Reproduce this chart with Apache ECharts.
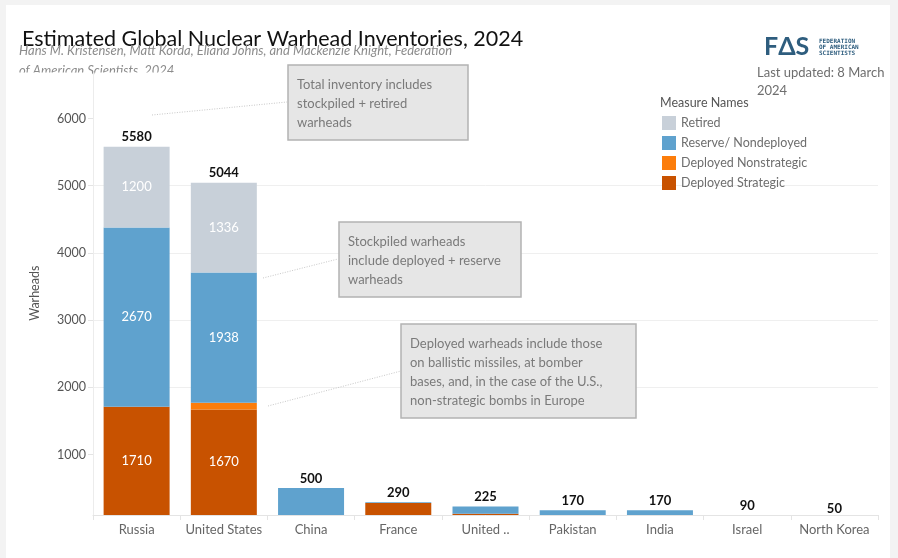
<!DOCTYPE html>
<html>
<head>
<meta charset="utf-8">
<script src="https://cdn.jsdelivr.net/npm/echarts@6/dist/echarts.min.js"></script>
<style>
html,body{margin:0;padding:0;background:#f3f3f3;}
#chart{width:898px;height:558px;}
</style>
</head>
<body>
<div id="chart"></div>
<script>
// ---- data ----
var categoryLabels = ['Russia', 'United States', 'China', 'France', 'United ..', 'Pakistan', 'India', 'Israel', 'North Korea'];
var deployedStrategic    = [1710, 1670,   0, 280, 120,   0,   0,  0,  0];
var deployedNonstrategic = [   0,  100,   0,   0,   0,   0,   0,  0,  0];
var reserveNondeployed   = [2670, 1938, 500,  10, 105, 170, 170, 90, 50];
var retired              = [1200, 1336,   0,   0,   0,   0,   0,  0,  0];
var totals               = [5580, 5044, 500, 290, 225, 170, 170, 90, 50];
var yTickValues = [1000, 2000, 3000, 4000, 5000, 6000];
var seriesNames = ['Retired', 'Reserve/ Nondeployed', 'Deployed Nonstrategic', 'Deployed Strategic'];

var FONT = 'Lato';
var colors = {
  'Retired': '#c8d0d9',
  'Reserve/ Nondeployed': '#5fa2ce',
  'Deployed Nonstrategic': '#fc7d0b',
  'Deployed Strategic': '#c85200'
};

var chart = echarts.init(document.getElementById('chart'));

function segLabel() {
  return {
    show: true,
    position: 'inside',
    color: '#ffffff',
    fontFamily: FONT,
    fontSize: 13,
    formatter: function (p) { return p.value >= 1000 ? String(p.value) : ''; }
  };
}

function stackSeries(name, data) {
  return {
    name: name,
    type: 'bar',
    stack: 'inv',
    barWidth: 66,
    data: data,
    itemStyle: { color: colors[name] },
    label: segLabel(),
    emphasis: { disabled: true }
  };
}

function annBox(x, y, w, h, text) {
  return [
    { type: 'rect', shape: { x: x, y: y, width: w, height: h },
      style: { fill: '#e6e6e6', stroke: '#b3b3b3', lineWidth: 1.5 }, z: 100 },
    { type: 'text', x: x + 9, y: y + 10,
      style: { text: text, fill: '#7a7a7a', font: '13px ' + FONT, lineHeight: 19,
               verticalAlign: 'top' }, z: 101 }
  ];
}
function dotLine(x1, y1, x2, y2) {
  return { type: 'line', shape: { x1: x1, y1: y1, x2: x2, y2: y2 },
           style: { stroke: '#c8c8c8', lineWidth: 1, lineDash: [1, 1.5] }, z: 99 };
}

var graphics = [
  { type: 'rect', shape: { x: 6, y: 5, width: 884, height: 553 }, style: { fill: '#ffffff' }, z: -100 },
  { type: 'text', x: 22, y: 39,
    style: { text: 'Estimated Global Nuclear Warhead Inventories, 2024', fill: '#111111',
             font: '21.5px ' + FONT, verticalAlign: 'middle' }, z: 5 },
  { type: 'text', x: 19, y: 51,
    style: { text: 'Hans M. Kristensen, Matt Korda, Eliana Johns, and Mackenzie Knight, Federation',
             fill: '#8c8c8c', font: 'italic 13px ' + FONT, verticalAlign: 'middle' }, z: 6 },
  { type: 'text', x: 19, y: 71,
    style: { text: 'of American Scientists, 2024',
             fill: '#8c8c8c', font: 'italic 13px ' + FONT, verticalAlign: 'middle' }, z: 6 },
  { type: 'rect', shape: { x: 6, y: 72.5, width: 86, height: 10 }, style: { fill: '#ffffff' }, z: 7 },
  { type: 'rect', shape: { x: 94.5, y: 72.5, width: 190, height: 10 }, style: { fill: '#ffffff' }, z: 7 },
  // logo
  { type: 'text', x: 764, y: 47,
    style: { text: 'F\u0394S', fill: '#2e5d7e', font: 'bold 25px ' + FONT, verticalAlign: 'middle' }, z: 5 },
  { type: 'text', x: 819, y: 41,
    style: { text: 'FEDERATION', fill: '#2e5d7e', font: 'bold 6px "DejaVu Sans Mono"', verticalAlign: 'middle' }, z: 5 },
  { type: 'text', x: 819, y: 47,
    style: { text: 'OF AMERICAN', fill: '#2e5d7e', font: 'bold 6px "DejaVu Sans Mono"', verticalAlign: 'middle' }, z: 5 },
  { type: 'text', x: 819, y: 53,
    style: { text: 'SCIENTISTS', fill: '#2e5d7e', font: 'bold 6px "DejaVu Sans Mono"', verticalAlign: 'middle' }, z: 5 },
  { type: 'text', x: 757, y: 73,
    style: { text: 'Last updated: 8 March', fill: '#6e6e6e', font: '13px ' + FONT, verticalAlign: 'middle' }, z: 5 },
  { type: 'text', x: 757, y: 91,
    style: { text: '2024', fill: '#6e6e6e', font: '13px ' + FONT, verticalAlign: 'middle' }, z: 5 },
  { type: 'text', x: 660, y: 103,
    style: { text: 'Measure Names', fill: '#555555', font: '12.5px ' + FONT, verticalAlign: 'middle' }, z: 5 },
  dotLine(152, 115, 287, 102),
  dotLine(263, 278, 338, 259),
  dotLine(268, 406, 401, 371)
].concat(
  annBox(288, 65, 180, 75, 'Total inventory includes\nstockpiled + retired\nwarheads'),
  annBox(339, 222, 182, 75, 'Stockpiled warheads\ninclude deployed + reserve\nwarheads'),
  annBox(401, 324, 235, 94, 'Deployed warheads include those\non ballistic missiles, at bomber\nbases, and, in the case of the U.S.,\nnon-strategic bombs in Europe')
);

var option = {
  animation: false,
  backgroundColor: 'transparent',
  textStyle: { fontFamily: FONT },
  grid: { left: 93, right: 20, top: 71.5, bottom: 43, containLabel: false },
  legend: {
    data: seriesNames,
    orient: 'vertical',
    left: 662, top: 116,
    padding: 0,
    itemWidth: 14, itemHeight: 14, itemGap: 6,
    icon: 'rect',
    selectedMode: false,
    textStyle: { color: '#6e6e6e', fontSize: 12.5, fontFamily: FONT }
  },
  xAxis: {
    type: 'category',
    data: categoryLabels,
    axisLine: { show: true, lineStyle: { color: '#e4e4e4', width: 1 } },
    axisTick: { show: true, length: 5, lineStyle: { color: '#e4e4e4' } },
    axisLabel: { interval: 0, color: '#666666', fontSize: 13, fontFamily: FONT, margin: 8 },
    splitLine: { show: false }
  },
  yAxis: {
    type: 'value',
    min: 100, max: 6700,
    name: 'Warheads',
    nameLocation: 'middle',
    nameGap: 52,
    nameTextStyle: { color: '#555555', fontSize: 12.5, fontFamily: FONT },
    axisLine: { show: true, lineStyle: { color: '#ececec' } },
    axisTick: { show: true, length: 5, inside: false, lineStyle: { color: '#e4e4e4' }, customValues: yTickValues },
    axisLabel: { color: '#555555', fontSize: 12.5, fontFamily: FONT, margin: 7, customValues: yTickValues,
                 formatter: function (v) { return String(v); } },
    splitLine: { show: true, showMaxLine: false, showMinLine: false, lineStyle: { color: '#efefef' } }
  },
  graphic: graphics,
  series: [
    stackSeries('Deployed Strategic', deployedStrategic),
    stackSeries('Deployed Nonstrategic', deployedNonstrategic),
    stackSeries('Reserve/ Nondeployed', reserveNondeployed),
    stackSeries('Retired', retired),
    {
      name: 'Total',
      type: 'bar',
      barWidth: 66,
      barGap: '-100%',
      data: totals,
      clip: false,
      z: 1,
      itemStyle: { color: 'rgba(0,0,0,0)' },
      label: { show: true, position: 'top', distance: 3, color: '#111111',
               fontFamily: FONT, fontSize: 13, fontWeight: 'bold' },
      emphasis: { disabled: true }
    }
  ]
};
chart.setOption(option);
</script>
</body>
</html>
